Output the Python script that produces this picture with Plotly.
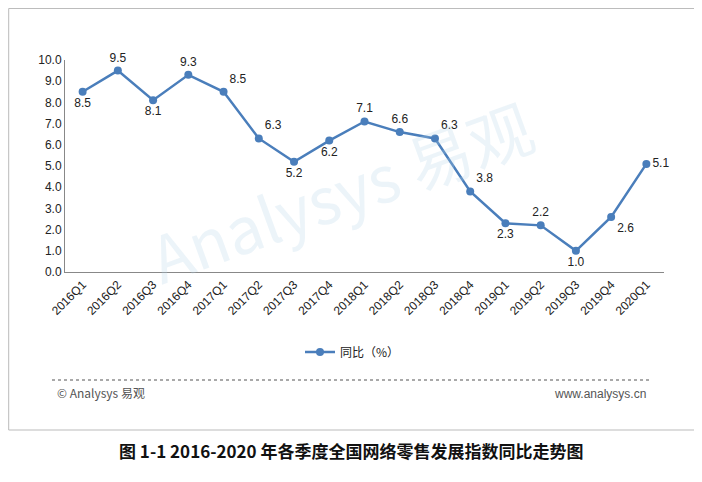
import plotly.graph_objects as go

quarters = ["2016Q1","2016Q2","2016Q3","2016Q4","2017Q1","2017Q2","2017Q3","2017Q4",
            "2018Q1","2018Q2","2018Q3","2018Q4","2019Q1","2019Q2","2019Q3","2019Q4","2020Q1"]
values = [8.5,9.5,8.1,9.3,8.5,6.3,5.2,6.2,7.1,6.6,6.3,3.8,2.3,2.2,1.0,2.6,5.1]
label_pos = ["bottom center","top center","bottom center","top center","top right","top right",
             "bottom center","bottom center","top center","top center","top right","top right",
             "bottom center","top center","bottom center","bottom right","middle right"]

W, H = 702, 482
OFF = 8
def px(x): return (x - OFF) / W
def py(y): return (H - (y - OFF)) / H

fig = go.Figure()
fig.add_trace(go.Scatter(
    x=quarters, y=values, mode="lines+markers+text",
    text=[f"{v:.1f}" for v in values], textposition=label_pos,
    textfont=dict(size=12, color="#222", family="Arial, Liberation Sans"),
    line=dict(color="#4a7ebb", width=2.5), marker=dict(size=8, color="#4a7ebb"),
    name="同比（%）", cliponaxis=False))

fig.update_layout(
    width=W, height=H, margin=dict(l=0, r=0, t=0, b=0),
    paper_bgcolor="white", plot_bgcolor="white",
    font=dict(family="Liberation Sans, Noto Sans CJK SC", size=12, color="#222"),
    xaxis=dict(domain=[px(65), px(664)], range=[-0.5, 16.5], type="category",
               tickangle=-45, showline=True, linecolor="#888", ticks="",
               showgrid=False, tickfont=dict(size=12), automargin=False),
    yaxis=dict(domain=[py(272), py(60)], range=[0, 10], dtick=1, tickformat=".1f",
               showline=True, linecolor="#888", ticks="", showgrid=False,
               tickfont=dict(size=12), automargin=False),
    showlegend=True,
    legend=dict(x=px(300), y=py(352), xanchor="left", yanchor="middle",
                orientation="h", font=dict(size=12, family="Noto Sans CJK SC")),
)
fig.add_shape(type="rect", xref="paper", yref="paper", x0=0.001, x1=px(697),
              y0=py(430), y1=0.999, line=dict(color="#bbb", width=1))
fig.add_shape(type="line", xref="paper", yref="paper", x0=px(52), x1=px(650),
              y0=py(380), y1=py(380), line=dict(color="#555", width=1.2, dash="dot"))
fig.add_annotation(xref="paper", yref="paper", x=px(55), y=py(403), xanchor="left",
                   text="© Analysys 易观", showarrow=False,
                   font=dict(size=12, color="#555", family="Noto Sans CJK SC"))
fig.add_annotation(xref="paper", yref="paper", x=px(648), y=py(403), xanchor="right",
                   text="www.analysys.cn", showarrow=False,
                   font=dict(size=12, color="#555"))
fig.add_annotation(xref="paper", yref="paper", x=px(351), y=py(465),
                   text="<b>图 1-1 2016-2020 年各季度全国网络零售发展指数同比走势图</b>",
                   showarrow=False, font=dict(size=17, color="#111", family="Noto Sans CJK SC"))
fig.add_annotation(xref="paper", yref="paper", x=px(340), y=py(190),
                   text="Analysys 易观", showarrow=False, textangle=-20,
                   font=dict(size=64, color="rgba(180,210,230,0.25)", family="Noto Sans CJK SC"))
fig.write_html("out.html")
